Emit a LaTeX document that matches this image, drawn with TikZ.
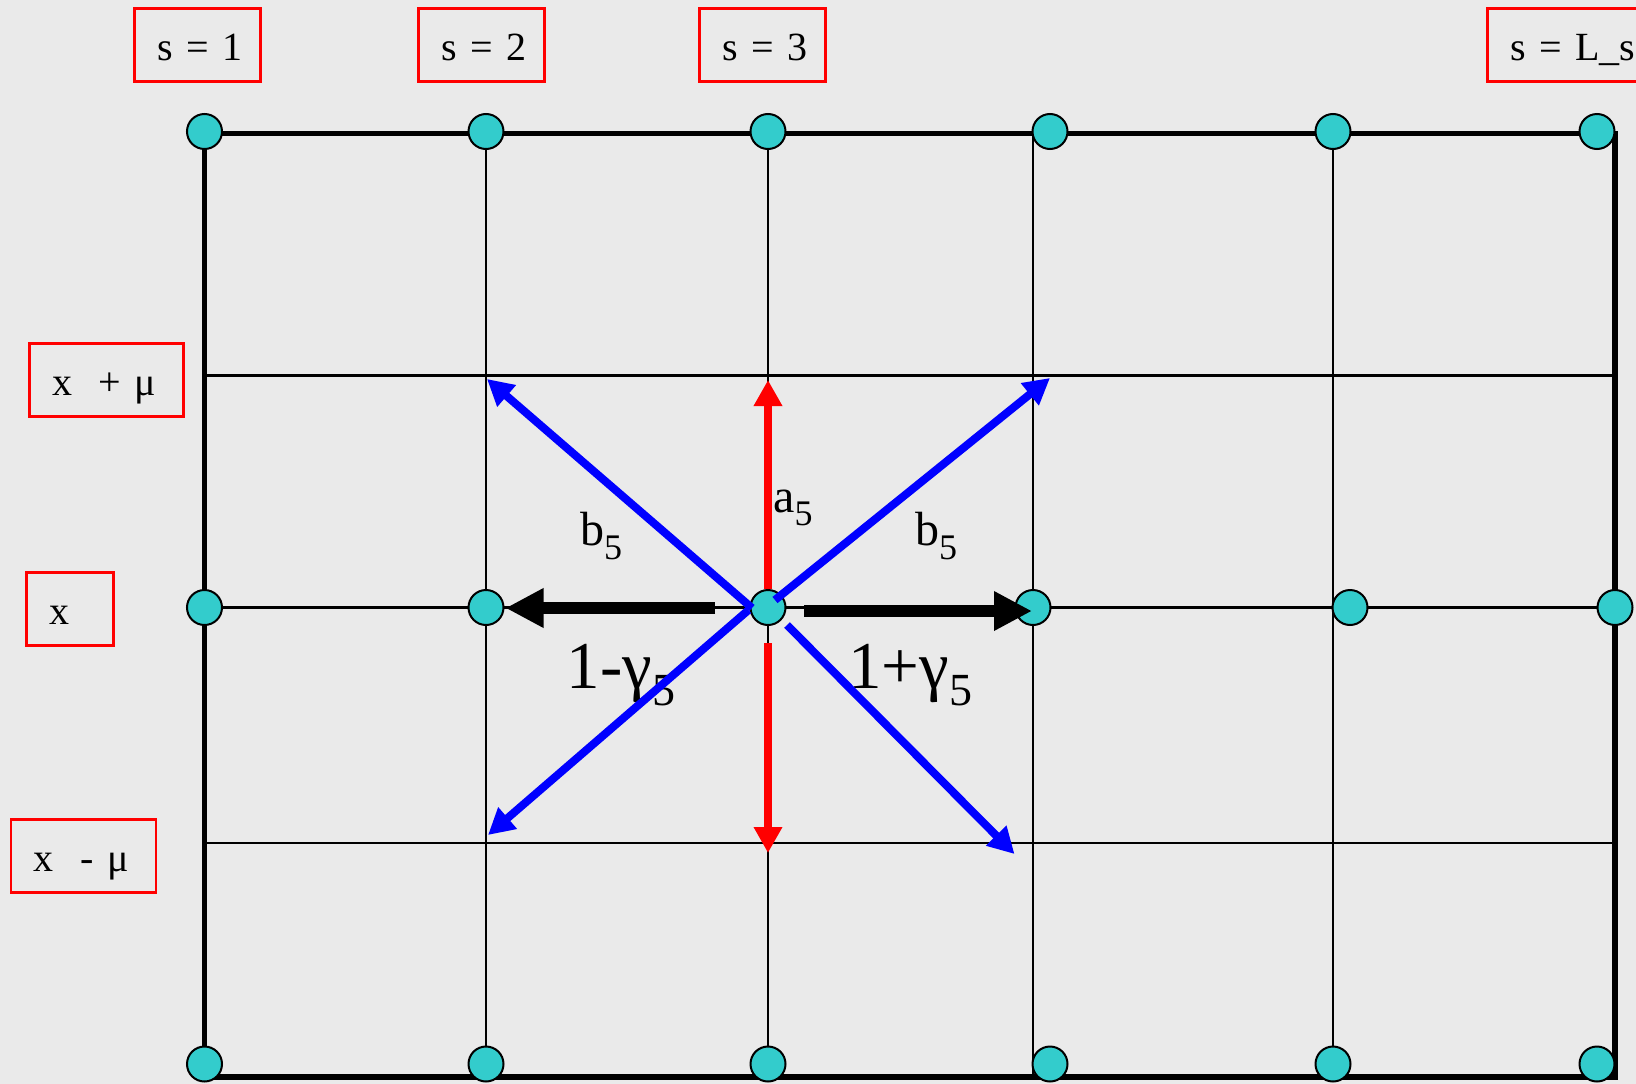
\documentclass[tikz,border=0pt]{standalone}
\usepackage{fontspec}
\setmainfont{Liberation Serif}
\usetikzlibrary{arrows.meta}
\definecolor{LatticeBg}{HTML}{EAEAEA}
\definecolor{SiteCyan}{HTML}{33CCCC}
\newcommand{\sfive}[2]{\raisebox{-#1pt}{\fontsize{#2}{#2}\selectfont 5}}

\begin{document}
\begin{tikzpicture}[x=1pt,y=-1pt,
  site/.style={circle,draw,line width=2,fill=SiteCyan,minimum size=35,inner sep=0},
  tag/.style={draw=red,line width=2.5,anchor=west,minimum height=73,inner xsep=23,inner ysep=0,
    text height=31pt,text depth=0pt,align=left,font=\fontsize{40}{44}\selectfont},
  lab/.style={anchor=base west,inner sep=0,font=\fontsize{48}{50}\selectfont},
  big/.style={anchor=base west,inner sep=0,font=\fontsize{67}{70}\selectfont},
  hop/.style={line width=8,-{Triangle[length=26pt,width=27pt]}}]
\fill[LatticeBg] (0,0) rectangle (1636,1084);
\useasboundingbox (0,0) rectangle (1636,1084);
% lattice
\foreach \x in {486,768,1033,1333}{\draw[line width=2.5] (\x,133.5)--(\x,1077);}
\foreach \y in {375.6,607.5,843}{\draw[line width=2.5] (204.5,\y)--(1615,\y);}
\draw[line width=5.5] (204.5,133.5) rectangle (1615,1077);
% sites
\foreach \x[count=\i] in {204.5,486,768,1050,1333,1597}{\node[site] (t\i) at (\x,131.5) {};\node[site] (b\i) at (\x,1064) {};}
\foreach \x[count=\i] in {204.5,486,768,1033,1350,1615}{\node[site] (m\i) at (\x,607.5) {};}
% labels
\node[tag,text width=80pt] (s1) at (133,45) {\mbox{s = 1}};
\node[tag,text width=80pt] (s2) at (417,45) {\mbox{s = 2}};
\node[tag,text width=80pt] (s3) at (698,45) {\mbox{s = 3}};
\node[tag,text width=121pt] (sL) at (1486,45) {\mbox{s = L\_s}};
\node[tag,text width=108pt] (xp) at (28,380) {\mbox{x\ \ + μ}};
\node[tag,text width=41pt] (x0) at (25,609) {\mbox{x}};
\node[tag,text width=99pt] (xm) at (9.7,856) {\mbox{x\ \ - μ}};
\node[lab] (a5) at (773,512) {a\sfive{13}{36}};
\node[lab] (bl) at (580,545) {b\sfive{14}{36}};
\node[lab] (br) at (915,545) {b\sfive{14}{36}};
\node[big] (gm) at (566.7,688) {1-γ\sfive{17}{46}};
\node[big] (gp) at (848,688) {1+γ\sfive{17}{46}};
% hops
\coordinate (aU) at (768,380);\coordinate (aD0) at (768,643);\coordinate (aD) at (768,853);
\coordinate (ul0) at (752,608);\coordinate (ul) at (487,379);
\coordinate (ur0) at (775,600);\coordinate (ur) at (1050,378);
\coordinate (ll0) at (748.5,610);\coordinate (ll) at (488,835);
\coordinate (lr0) at (787,625);\coordinate (lr) at (1014.5,854);
\coordinate (kl0) at (715,608);\coordinate (kl) at (505.5,608);
\coordinate (kr0) at (804,611);\coordinate (kr) at (1032,611);
\draw[hop,red] (m3.north)--(aU);
\draw[hop,red] (aD0)--(aD);
\foreach \a in {ul,ur,ll,lr}{\draw[hop,blue] (\a0)--(\a);}
\draw[line width=12,-{Triangle[length=38pt,width=37pt]}] (kl0)--(kl);
\draw[line width=12,-{Triangle[length=38pt,width=37pt]}] (kr0)--(kr);
\end{tikzpicture}
\end{document}
